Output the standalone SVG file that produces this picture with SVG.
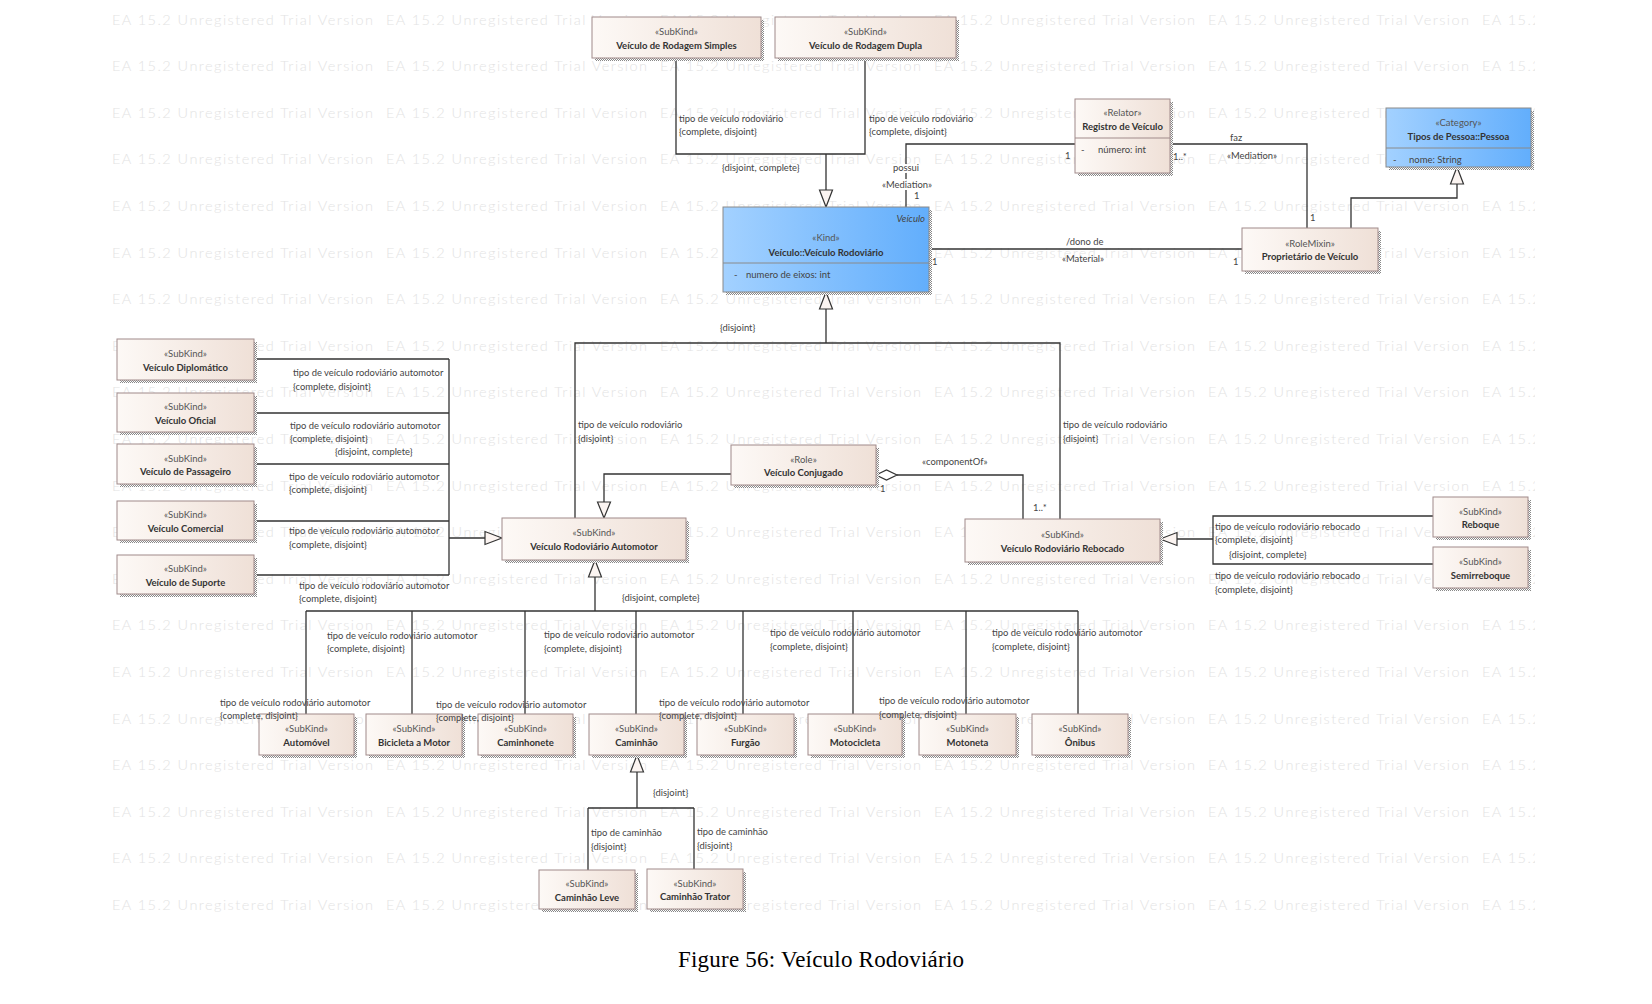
<svg xmlns="http://www.w3.org/2000/svg" xmlns:xlink="http://www.w3.org/1999/xlink" width="1652" height="1004" viewBox="0 0 1652 1004">
<style>
.wm{font-family:Lato,"Open Sans",sans-serif;font-size:14.5px;font-weight:300;fill:#e3e3e3}
.box{fill:url(#beige);stroke:#a08a8a;stroke-width:1}
.bbox{fill:url(#blue);stroke:#8a8a8a;stroke-width:1}
.sep{stroke:#a08a8a;stroke-width:1}
.bsep{stroke:#8a8a8a;stroke-width:1}
.sh{fill:url(#dots)}
.st{font-family:Lato,"Open Sans",sans-serif;font-size:9.5px;fill:#555;text-anchor:middle}
.nm{font-family:Lato,"Open Sans",sans-serif;font-size:9.5px;font-weight:bold;fill:#333;text-anchor:middle}
.at{font-family:Lato,"Open Sans",sans-serif;font-size:9.5px;fill:#444}
.lbl{font-family:Lato,"Open Sans",sans-serif;font-size:9.4px;fill:#444}
.lc{text-anchor:middle}
.halo{paint-order:stroke;stroke:#fff;stroke-width:4px;stroke-linejoin:round}
.ln{fill:none;stroke:#333;stroke-width:1.3}
.tri{fill:#fbf4f1;stroke:#333;stroke-width:1.2}
.cap{font-family:"Liberation Serif","Times New Roman",serif;font-size:23px;fill:#000}
</style>
<defs>
<linearGradient id="beige" x1="0" y1="0" x2="1" y2="0"><stop offset="0" stop-color="#fdf9f6"/><stop offset="1" stop-color="#efe0d7"/></linearGradient>
<linearGradient id="blue" x1="0" y1="0" x2="1" y2="0"><stop offset="0" stop-color="#a3d1ff"/><stop offset="1" stop-color="#62aefc"/></linearGradient>
<pattern id="dots" width="2" height="2" patternUnits="userSpaceOnUse"><rect width="2" height="2" fill="#ffffff"/><rect width="1" height="1" fill="#888"/><rect x="1" y="1" width="1" height="1" fill="#888"/></pattern>
<clipPath id="wmclip"><rect x="0" y="0" width="1535" height="1004"/></clipPath>
<g id="wmrow">
<text class="wm" x="112" textLength="261">EA 15.2 Unregistered Trial Version</text>
<text class="wm" x="386" textLength="261">EA 15.2 Unregistered Trial Version</text>
<text class="wm" x="660" textLength="261">EA 15.2 Unregistered Trial Version</text>
<text class="wm" x="934" textLength="261">EA 15.2 Unregistered Trial Version</text>
<text class="wm" x="1208" textLength="261">EA 15.2 Unregistered Trial Version</text>
<text class="wm" x="1482" textLength="261">EA 15.2 Unregistered Trial Version</text>
</g>
</defs>
<rect width="1652" height="1004" fill="#fff"/>
<g id="watermark" clip-path="url(#wmclip)">
<use xlink:href="#wmrow" y="24.5"/><use xlink:href="#wmrow" y="71.1"/><use xlink:href="#wmrow" y="117.7"/><use xlink:href="#wmrow" y="164.3"/><use xlink:href="#wmrow" y="210.9"/>
<use xlink:href="#wmrow" y="257.5"/><use xlink:href="#wmrow" y="304.1"/><use xlink:href="#wmrow" y="350.7"/><use xlink:href="#wmrow" y="397.3"/><use xlink:href="#wmrow" y="443.9"/>
<use xlink:href="#wmrow" y="490.5"/><use xlink:href="#wmrow" y="537.1"/><use xlink:href="#wmrow" y="583.7"/><use xlink:href="#wmrow" y="630.3"/><use xlink:href="#wmrow" y="676.9"/>
<use xlink:href="#wmrow" y="723.5"/><use xlink:href="#wmrow" y="770.1"/><use xlink:href="#wmrow" y="816.7"/><use xlink:href="#wmrow" y="863.3"/><use xlink:href="#wmrow" y="909.9"/>
</g>

<g id="connectors">
<path class="ln" d="M676,58 V154 H865 V58 M826,154 V190"/>
<polygon class="tri" points="826,207 819.5,190 832.5,190"/>
<path class="ln" d="M906,207 V144 H1075"/>
<path class="ln" d="M1170,144 H1307 V228"/>
<path class="ln" d="M929,249 H1242"/>
<path class="ln" d="M1351,228 V198 H1457 V184"/>
<polygon class="tri" points="1457,167 1450.5,184 1463.5,184"/>
<path class="ln" d="M826,309 V343 M575,518 V343 H1060 V519"/>
<polygon class="tri" points="826,292 819.5,309 832.5,309"/>
<path class="ln" d="M731,474 H604 V502"/>
<polygon class="tri" points="604,518 597.5,502 610.5,502"/>
<path class="ln" d="M897,475 H1023 V519"/>
<polygon class="tri" points="876,475 886.5,470 897,475 886.5,480" style="fill:#fff"/>
<path class="ln" d="M254,359 H449 M254,413 H449 M254,464 H449 M254,521 H449 M254,575 H449 M449,359 V575 M449,538 H485"/>
<polygon class="tri" points="502,538 485,531.5 485,544.5"/>
<path class="ln" d="M595,577 V611 M306,611 H1078 M306,611 V714 M412,611 V714 M525,611 V714 M636,611 V714 M743,611 V714 M853,611 V714 M966,611 V714 M1078,611 V714"/>
<polygon class="tri" points="595,560 588.5,577 601.5,577"/>
<path class="ln" d="M637,772 V808 M588,808 H694 M588,808 V870 M694,808 V869"/>
<polygon class="tri" points="637,755 630.5,772 643.5,772"/>
<path class="ln" d="M1433,516 H1213 V564 H1433 M1213,539 H1177"/>
<polygon class="tri" points="1160,539 1177,532.5 1177,545.5"/>
</g>

<g id="n-simples"><rect class="sh" x="595" y="20" width="169" height="41"/><rect class="box" x="592" y="17" width="169" height="41"/><text class="st" x="676.5" y="35">«SubKind»</text><text class="nm" x="676.5" y="49">Veículo de Rodagem Simples</text></g>
<g id="n-dupla"><rect class="sh" x="778" y="20" width="181" height="41"/><rect class="box" x="775" y="17" width="181" height="41"/><text class="st" x="865.5" y="35">«SubKind»</text><text class="nm" x="865.5" y="49">Veículo de Rodagem Dupla</text></g>
<g id="n-registro"><rect class="sh" x="1078" y="102" width="95" height="74"/><rect class="box" x="1075" y="99" width="95" height="74"/><line class="sep" x1="1075" y1="138" x2="1170" y2="138"/><text class="st" x="1122.5" y="116">«Relator»</text><text class="nm" x="1122.5" y="129.5">Registro de Veículo</text><text class="at" x="1081" y="153">-</text><text class="at" x="1098" y="153">número: int</text></g>
<g id="n-pessoa"><rect class="sh" x="1389" y="111" width="145" height="59"/><rect class="bbox" x="1386" y="108" width="145" height="59"/><line class="bsep" x1="1386" y1="148" x2="1531" y2="148"/><text class="st" x="1458.5" y="126">«Category»</text><text class="nm" x="1458.5" y="139.5">Tipos de Pessoa::Pessoa</text><text class="at" x="1393" y="163">-</text><text class="at" x="1409" y="163">nome: String</text></g>
<g id="n-veiculo"><rect class="sh" x="726" y="210" width="206" height="85"/><rect class="bbox" x="723" y="207" width="206" height="85"/><line class="bsep" x1="723" y1="263" x2="929" y2="263"/><text class="at" x="925" y="222" text-anchor="end" font-style="italic">Veículo</text><text class="st" x="826" y="240.5">«Kind»</text><text class="nm" x="826" y="255.5">Veículo::Veículo Rodoviário</text><text class="at" x="734" y="277.5">-</text><text class="at" x="746" y="277.5">numero de eixos: int</text></g>
<g id="n-proprietario"><rect class="sh" x="1245" y="231" width="136" height="43"/><rect class="box" x="1242" y="228" width="136" height="43"/><text class="st" x="1310" y="246.5">«RoleMixin»</text><text class="nm" x="1310" y="259.5">Proprietário de Veículo</text></g>
<g id="n-diplomatico"><rect class="sh" x="120" y="342" width="137" height="41"/><rect class="box" x="117" y="339" width="137" height="41"/><text class="st" x="185.5" y="357">«SubKind»</text><text class="nm" x="185.5" y="370.5">Veículo Diplomático</text></g>
<g id="n-oficial"><rect class="sh" x="120" y="396" width="137" height="39"/><rect class="box" x="117" y="393" width="137" height="39"/><text class="st" x="185.5" y="410">«SubKind»</text><text class="nm" x="185.5" y="423.5">Veículo Oficial</text></g>
<g id="n-passageiro"><rect class="sh" x="120" y="447" width="137" height="40"/><rect class="box" x="117" y="444" width="137" height="40"/><text class="st" x="185.5" y="461.5">«SubKind»</text><text class="nm" x="185.5" y="475">Veículo de Passageiro</text></g>
<g id="n-comercial"><rect class="sh" x="120" y="504" width="137" height="39"/><rect class="box" x="117" y="501" width="137" height="39"/><text class="st" x="185.5" y="518">«SubKind»</text><text class="nm" x="185.5" y="531.5">Veículo Comercial</text></g>
<g id="n-suporte"><rect class="sh" x="120" y="558" width="137" height="39"/><rect class="box" x="117" y="555" width="137" height="39"/><text class="st" x="185.5" y="572">«SubKind»</text><text class="nm" x="185.5" y="585.5">Veículo de Suporte</text></g>
<g id="n-automotor"><rect class="sh" x="505" y="521" width="184" height="42"/><rect class="box" x="502" y="518" width="184" height="42"/><text class="st" x="594" y="536">«SubKind»</text><text class="nm" x="594" y="550">Veículo Rodoviário Automotor</text></g>
<g id="n-conjugado"><rect class="sh" x="734" y="448" width="145" height="40"/><rect class="box" x="731" y="445" width="145" height="40"/><text class="st" x="803.5" y="462.5">«Role»</text><text class="nm" x="803.5" y="476">Veículo Conjugado</text></g>
<g id="n-rebocado"><rect class="sh" x="968" y="522" width="195" height="43"/><rect class="box" x="965" y="519" width="195" height="43"/><text class="st" x="1062.5" y="537.5">«SubKind»</text><text class="nm" x="1062.5" y="551.5">Veículo Rodoviário Rebocado</text></g>
<g id="n-reboque"><rect class="sh" x="1436" y="500" width="95" height="40"/><rect class="box" x="1433" y="497" width="95" height="40"/><text class="st" x="1480.5" y="514.5">«SubKind»</text><text class="nm" x="1480.5" y="528">Reboque</text></g>
<g id="n-semirreboque"><rect class="sh" x="1436" y="550" width="95" height="41"/><rect class="box" x="1433" y="547" width="95" height="41"/><text class="st" x="1480.5" y="565">«SubKind»</text><text class="nm" x="1480.5" y="578.5">Semirreboque</text></g>
<g id="n-automovel"><rect class="sh" x="262" y="717" width="95" height="41"/><rect class="box" x="259" y="714" width="95" height="41"/><text class="st" x="306.5" y="732">«SubKind»</text><text class="nm" x="306.5" y="745.5">Automóvel</text></g>
<g id="n-bicicleta"><rect class="sh" x="369" y="717" width="96" height="41"/><rect class="box" x="366" y="714" width="96" height="41"/><text class="st" x="414" y="732">«SubKind»</text><text class="nm" x="414" y="745.5">Bicicleta a Motor</text></g>
<g id="n-caminhonete"><rect class="sh" x="481" y="717" width="95" height="41"/><rect class="box" x="478" y="714" width="95" height="41"/><text class="st" x="525.5" y="732">«SubKind»</text><text class="nm" x="525.5" y="745.5">Caminhonete</text></g>
<g id="n-caminhao"><rect class="sh" x="592" y="717" width="95" height="41"/><rect class="box" x="589" y="714" width="95" height="41"/><text class="st" x="636.5" y="732">«SubKind»</text><text class="nm" x="636.5" y="745.5">Caminhão</text></g>
<g id="n-furgao"><rect class="sh" x="700" y="717" width="97" height="41"/><rect class="box" x="697" y="714" width="97" height="41"/><text class="st" x="745.5" y="732">«SubKind»</text><text class="nm" x="745.5" y="745.5">Furgão</text></g>
<g id="n-motocicleta"><rect class="sh" x="811" y="717" width="94" height="41"/><rect class="box" x="808" y="714" width="94" height="41"/><text class="st" x="855" y="732">«SubKind»</text><text class="nm" x="855" y="745.5">Motocicleta</text></g>
<g id="n-motoneta"><rect class="sh" x="922" y="717" width="97" height="41"/><rect class="box" x="919" y="714" width="97" height="41"/><text class="st" x="967.5" y="732">«SubKind»</text><text class="nm" x="967.5" y="745.5">Motoneta</text></g>
<g id="n-onibus"><rect class="sh" x="1035" y="717" width="96" height="41"/><rect class="box" x="1032" y="714" width="96" height="41"/><text class="st" x="1080" y="732">«SubKind»</text><text class="nm" x="1080" y="745.5">Ônibus</text></g>
<g id="n-caminhao-leve"><rect class="sh" x="542" y="873" width="96" height="39"/><rect class="box" x="539" y="870" width="96" height="39"/><text class="st" x="587" y="887">«SubKind»</text><text class="nm" x="587" y="900.5">Caminhão Leve</text></g>
<g id="n-caminhao-trator"><rect class="sh" x="650" y="872" width="96" height="40"/><rect class="box" x="647" y="869" width="96" height="40"/><text class="st" x="695" y="886.5">«SubKind»</text><text class="nm" x="695" y="900">Caminhão Trator</text></g>

<g id="connector-labels">
<text class="lbl" x="679" y="122">tipo de veículo rodoviário</text>
<text class="lbl" x="679" y="135">{complete, disjoint}</text>
<text class="lbl" x="869" y="122">tipo de veículo rodoviário</text>
<text class="lbl" x="869" y="135">{complete, disjoint}</text>
<text class="lbl" x="722" y="171">{disjoint, complete}</text>
<text class="lbl lc halo" x="906" y="171">possui</text>
<text class="lbl lc halo" x="907" y="188">«Mediation»</text>
<text class="lbl" x="914" y="199">1</text>
<text class="lbl" x="1065" y="159">1</text>
<text class="lbl" x="1173" y="160">1..*</text>
<text class="lbl" x="1230" y="141">faz</text>
<text class="lbl" x="1227" y="159">«Mediation»</text>
<text class="lbl" x="1310" y="221">1</text>
<text class="lbl" x="1066" y="245">/dono de</text>
<text class="lbl" x="1062" y="262">«Material»</text>
<text class="lbl" x="932" y="265">1</text>
<text class="lbl" x="1233" y="265">1</text>
<text class="lbl" x="720" y="331">{disjoint}</text>
<text class="lbl" x="578" y="428">tipo de veículo rodoviário</text>
<text class="lbl" x="578" y="442">{disjoint}</text>
<text class="lbl" x="1063" y="428">tipo de veículo rodoviário</text>
<text class="lbl" x="1063" y="442">{disjoint}</text>
<text class="lbl" x="922" y="465">«componentOf»</text>
<text class="lbl" x="880" y="492">1</text>
<text class="lbl" x="1033" y="511">1..*</text>
<text class="lbl" x="293" y="376">tipo de veículo rodoviário automotor</text>
<text class="lbl" x="293" y="390">{complete, disjoint}</text>
<text class="lbl" x="290" y="429">tipo de veículo rodoviário automotor</text>
<text class="lbl" x="290" y="442">{complete, disjoint}</text>
<text class="lbl" x="335" y="455">{disjoint, complete}</text>
<text class="lbl" x="289" y="480">tipo de veículo rodoviário automotor</text>
<text class="lbl" x="289" y="493">{complete, disjoint}</text>
<text class="lbl" x="289" y="534">tipo de veículo rodoviário automotor</text>
<text class="lbl" x="289" y="548">{complete, disjoint}</text>
<text class="lbl" x="299" y="589">tipo de veículo rodoviário automotor</text>
<text class="lbl" x="299" y="602">{complete, disjoint}</text>
<text class="lbl" x="622" y="601">{disjoint, complete}</text>
<text class="lbl" x="327" y="639">tipo de veículo rodoviário automotor</text>
<text class="lbl" x="327" y="652">{complete, disjoint}</text>
<text class="lbl" x="220" y="706">tipo de veículo rodoviário automotor</text>
<text class="lbl" x="220" y="719">{complete, disjoint}</text>
<text class="lbl" x="436" y="708">tipo de veículo rodoviário automotor</text>
<text class="lbl" x="436" y="721">{complete, disjoint}</text>
<text class="lbl" x="544" y="638">tipo de veículo rodoviário automotor</text>
<text class="lbl" x="544" y="652">{complete, disjoint}</text>
<text class="lbl" x="659" y="706">tipo de veículo rodoviário automotor</text>
<text class="lbl" x="659" y="719">{complete, disjoint}</text>
<text class="lbl" x="770" y="636">tipo de veículo rodoviário automotor</text>
<text class="lbl" x="770" y="650">{complete, disjoint}</text>
<text class="lbl" x="879" y="704">tipo de veículo rodoviário automotor</text>
<text class="lbl" x="879" y="718">{complete, disjoint}</text>
<text class="lbl" x="992" y="636">tipo de veículo rodoviário automotor</text>
<text class="lbl" x="992" y="650">{complete, disjoint}</text>
<text class="lbl" x="653" y="796">{disjoint}</text>
<text class="lbl" x="591" y="836">tipo de caminhão</text>
<text class="lbl" x="591" y="850">{disjoint}</text>
<text class="lbl" x="697" y="835">tipo de caminhão</text>
<text class="lbl" x="697" y="849">{disjoint}</text>
<text class="lbl" x="1215" y="530">tipo de veículo rodoviário rebocado</text>
<text class="lbl" x="1215" y="543">{complete, disjoint}</text>
<text class="lbl" x="1229" y="558">{disjoint, complete}</text>
<text class="lbl" x="1215" y="579">tipo de veículo rodoviário rebocado</text>
<text class="lbl" x="1215" y="593">{complete, disjoint}</text>
</g>

<text class="cap" x="678" y="967" textLength="286">Figure 56: Veículo Rodoviário</text>
</svg>
